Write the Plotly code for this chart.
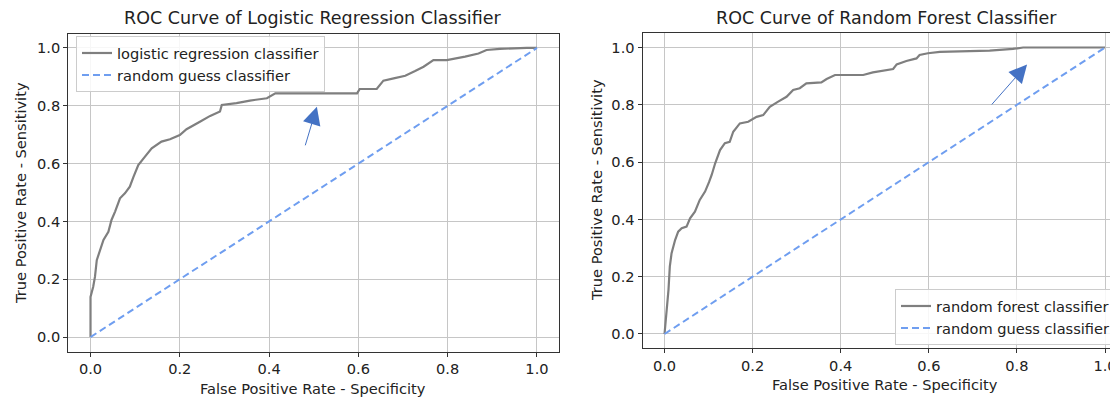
import plotly.graph_objects as go

# ---- data ----
lr_fpr = [0, 0, 0.006, 0.01, 0.014, 0.021, 0.029, 0.040, 0.047, 0.055, 0.066, 0.077, 0.088, 0.096, 0.107,
          0.122, 0.137, 0.159, 0.178, 0.200, 0.215, 0.245, 0.268, 0.29, 0.294, 0.327, 0.357, 0.395, 0.414,
          0.597, 0.603, 0.641, 0.656, 0.679, 0.705, 0.727, 0.746, 0.768, 0.798, 0.839, 0.869, 0.887, 0.917,
          0.977, 1.0]
lr_tpr = [0, 0.139, 0.174, 0.209, 0.266, 0.30, 0.336, 0.364, 0.405, 0.434, 0.48, 0.497, 0.52, 0.553, 0.595,
          0.624, 0.653, 0.676, 0.684, 0.699, 0.719, 0.745, 0.765, 0.78, 0.803, 0.809, 0.818, 0.826, 0.843,
          0.843, 0.858, 0.858, 0.887, 0.895, 0.904, 0.92, 0.935, 0.958, 0.958, 0.97, 0.981, 0.993, 0.997,
          1.0, 1.0]

rf_fpr = [0, 0.005, 0.009, 0.012, 0.016, 0.024, 0.031, 0.039, 0.05, 0.058, 0.069, 0.080, 0.092, 0.101,
          0.107, 0.115, 0.126, 0.137, 0.148, 0.156, 0.171, 0.19, 0.209, 0.224, 0.239, 0.258, 0.277, 0.292,
          0.307, 0.322, 0.356, 0.368, 0.387, 0.451, 0.473, 0.519, 0.527, 0.549, 0.572, 0.579, 0.598, 0.625,
          0.738, 0.791, 0.814, 1.0]
rf_tpr = [0, 0.072, 0.154, 0.235, 0.282, 0.328, 0.357, 0.369, 0.375, 0.404, 0.427, 0.468, 0.497, 0.53,
          0.555, 0.596, 0.642, 0.666, 0.671, 0.706, 0.735, 0.741, 0.758, 0.764, 0.793, 0.811, 0.828, 0.852,
          0.858, 0.875, 0.878, 0.89, 0.904, 0.904, 0.913, 0.925, 0.941, 0.953, 0.962, 0.974, 0.98, 0.985,
          0.989, 0.995, 1.0, 1.0]

guess_x = [0, 1]
guess_y = [0, 1]

tick_vals = [0.0, 0.2, 0.4, 0.6, 0.8, 1.0]
titles = ["ROC Curve of Logistic Regression Classifier", "ROC Curve of Random Forest Classifier"]
x_label = "False Positive Rate - Specificity"
y_label = "True Positive Rate - Sensitivity"
names_left = ["logistic regression classifier", "random guess classifier"]
names_right = ["random forest classifier", "random guess classifier"]

# arrows: (tail_x, tail_y, head_x, head_y) in data units
arrow_left = (0.48, 0.658, 0.507, 0.797)
arrow_right = (0.74, 0.796, 0.823, 0.941)

# The page body has an 8px default margin: the figure is sized so it ends exactly at the window edge.
OFF = 8
W, H = 1118 - OFF, 401 - OFF


def PX(p):
    return (p - OFF) / W


def PY(p):
    return 1 - (p - OFF) / H


FONT = "DejaVu Sans"
TXT = "#222222"
GRAY = "#7f7f7f"
BLUE = "#6f9ef0"
GRID = "#c6c6c6"
FS_TICK = 14.6
FS_TITLE = 17.5

fig = go.Figure()

fig.add_trace(go.Scatter(x=lr_fpr, y=lr_tpr, mode="lines", name=names_left[0],
                         line=dict(color=GRAY, width=2.2), xaxis="x", yaxis="y", legend="legend"))
fig.add_trace(go.Scatter(x=guess_x, y=guess_y, mode="lines", name=names_left[1],
                         line=dict(color=BLUE, width=2, dash="7px,4px"), xaxis="x", yaxis="y", legend="legend"))
fig.add_trace(go.Scatter(x=rf_fpr, y=rf_tpr, mode="lines", name=names_right[0],
                         line=dict(color=GRAY, width=2.2), xaxis="x2", yaxis="y2", legend="legend2"))
fig.add_trace(go.Scatter(x=guess_x, y=guess_y, mode="lines", name=names_right[1],
                         line=dict(color=BLUE, width=2, dash="7px,4px"), xaxis="x2", yaxis="y2", legend="legend2"))

# pixel geometry of the two axes boxes (page pixels)
L = dict(x0=68.2, x1=559.3, ybot=351.5, ytop=33.5)
R = dict(x0=642.5, ybot=348.3, ytop=33.2)
r_per_unit = 440.5
r_xmax = -0.05 + (1118 - R["x0"]) / r_per_unit

axis_common = dict(
    showgrid=True, gridcolor=GRID, gridwidth=1, zeroline=False,
    showline=True, linecolor="#333333", linewidth=1,
    ticks="outside", ticklen=4, tickwidth=1, tickcolor="#333333",
    tickvals=tick_vals, tickformat=".1f",
    tickfont=dict(family=FONT, size=FS_TICK, color=TXT),
    fixedrange=True,
)

legend_common = dict(xanchor="left", yanchor="top",
                     bgcolor="rgba(255,255,255,0.85)", bordercolor="#cccccc", borderwidth=1,
                     font=dict(family=FONT, size=FS_TICK, color=TXT))

fig.update_layout(
    width=W, height=H,
    margin=dict(l=0, r=0, t=0, b=0, autoexpand=False),
    paper_bgcolor="white", plot_bgcolor="white",
    font=dict(family=FONT, color=TXT),
    xaxis=dict(domain=[PX(L["x0"]), PX(L["x1"])], range=[-0.05, 1.05], anchor="y", mirror=True, **axis_common),
    yaxis=dict(domain=[PY(L["ybot"]), PY(L["ytop"])], range=[-0.05, 1.05], anchor="x", mirror=True, **axis_common),
    xaxis2=dict(domain=[PX(R["x0"]), 1.0], range=[-0.05, r_xmax], anchor="y2", mirror=True, **axis_common),
    yaxis2=dict(domain=[PY(R["ybot"]), PY(R["ytop"])], range=[-0.05, 1.05], anchor="x2", mirror=False, **axis_common),
    legend=dict(x=PX(76), y=PY(36), **legend_common),
    legend2=dict(x=PX(895), y=PY(289), **legend_common),
)

ann = []
# titles
ann.append(dict(text=titles[0], x=PX(312), y=PY(18), xref="paper", yref="paper",
                showarrow=False, xanchor="center", yanchor="middle", font=dict(family=FONT, size=FS_TITLE, color=TXT)))
ann.append(dict(text=titles[1], x=PX(886), y=PY(18), xref="paper", yref="paper",
                showarrow=False, xanchor="center", yanchor="middle", font=dict(family=FONT, size=FS_TITLE, color=TXT)))
# x labels
ann.append(dict(text=x_label, x=PX(313), y=PY(388), xref="paper", yref="paper",
                showarrow=False, xanchor="center", yanchor="middle", font=dict(family=FONT, size=FS_TICK, color=TXT)))
ann.append(dict(text=x_label, x=PX(885), y=PY(384), xref="paper", yref="paper",
                showarrow=False, xanchor="center", yanchor="middle", font=dict(family=FONT, size=FS_TICK, color=TXT)))
# y labels
ann.append(dict(text=y_label, x=PX(21), y=PY(193), xref="paper", yref="paper", textangle=-90,
                showarrow=False, xanchor="center", yanchor="middle", font=dict(family=FONT, size=FS_TICK, color=TXT)))
ann.append(dict(text=y_label, x=PX(596), y=PY(190), xref="paper", yref="paper", textangle=-90,
                showarrow=False, xanchor="center", yanchor="middle", font=dict(family=FONT, size=FS_TICK, color=TXT)))
# arrows
for (tx, ty, hx, hy), xr, yr in [(arrow_left, "x", "y"), (arrow_right, "x2", "y2")]:
    ann.append(dict(x=hx, y=hy, ax=tx, ay=ty, xref=xr, yref=yr, axref=xr, ayref=yr, text="",
                    showarrow=True, arrowhead=2, arrowsize=3.6, arrowwidth=1, arrowcolor="#4472C4"))
fig.update_layout(annotations=ann)

fig.write_html("out.html")
